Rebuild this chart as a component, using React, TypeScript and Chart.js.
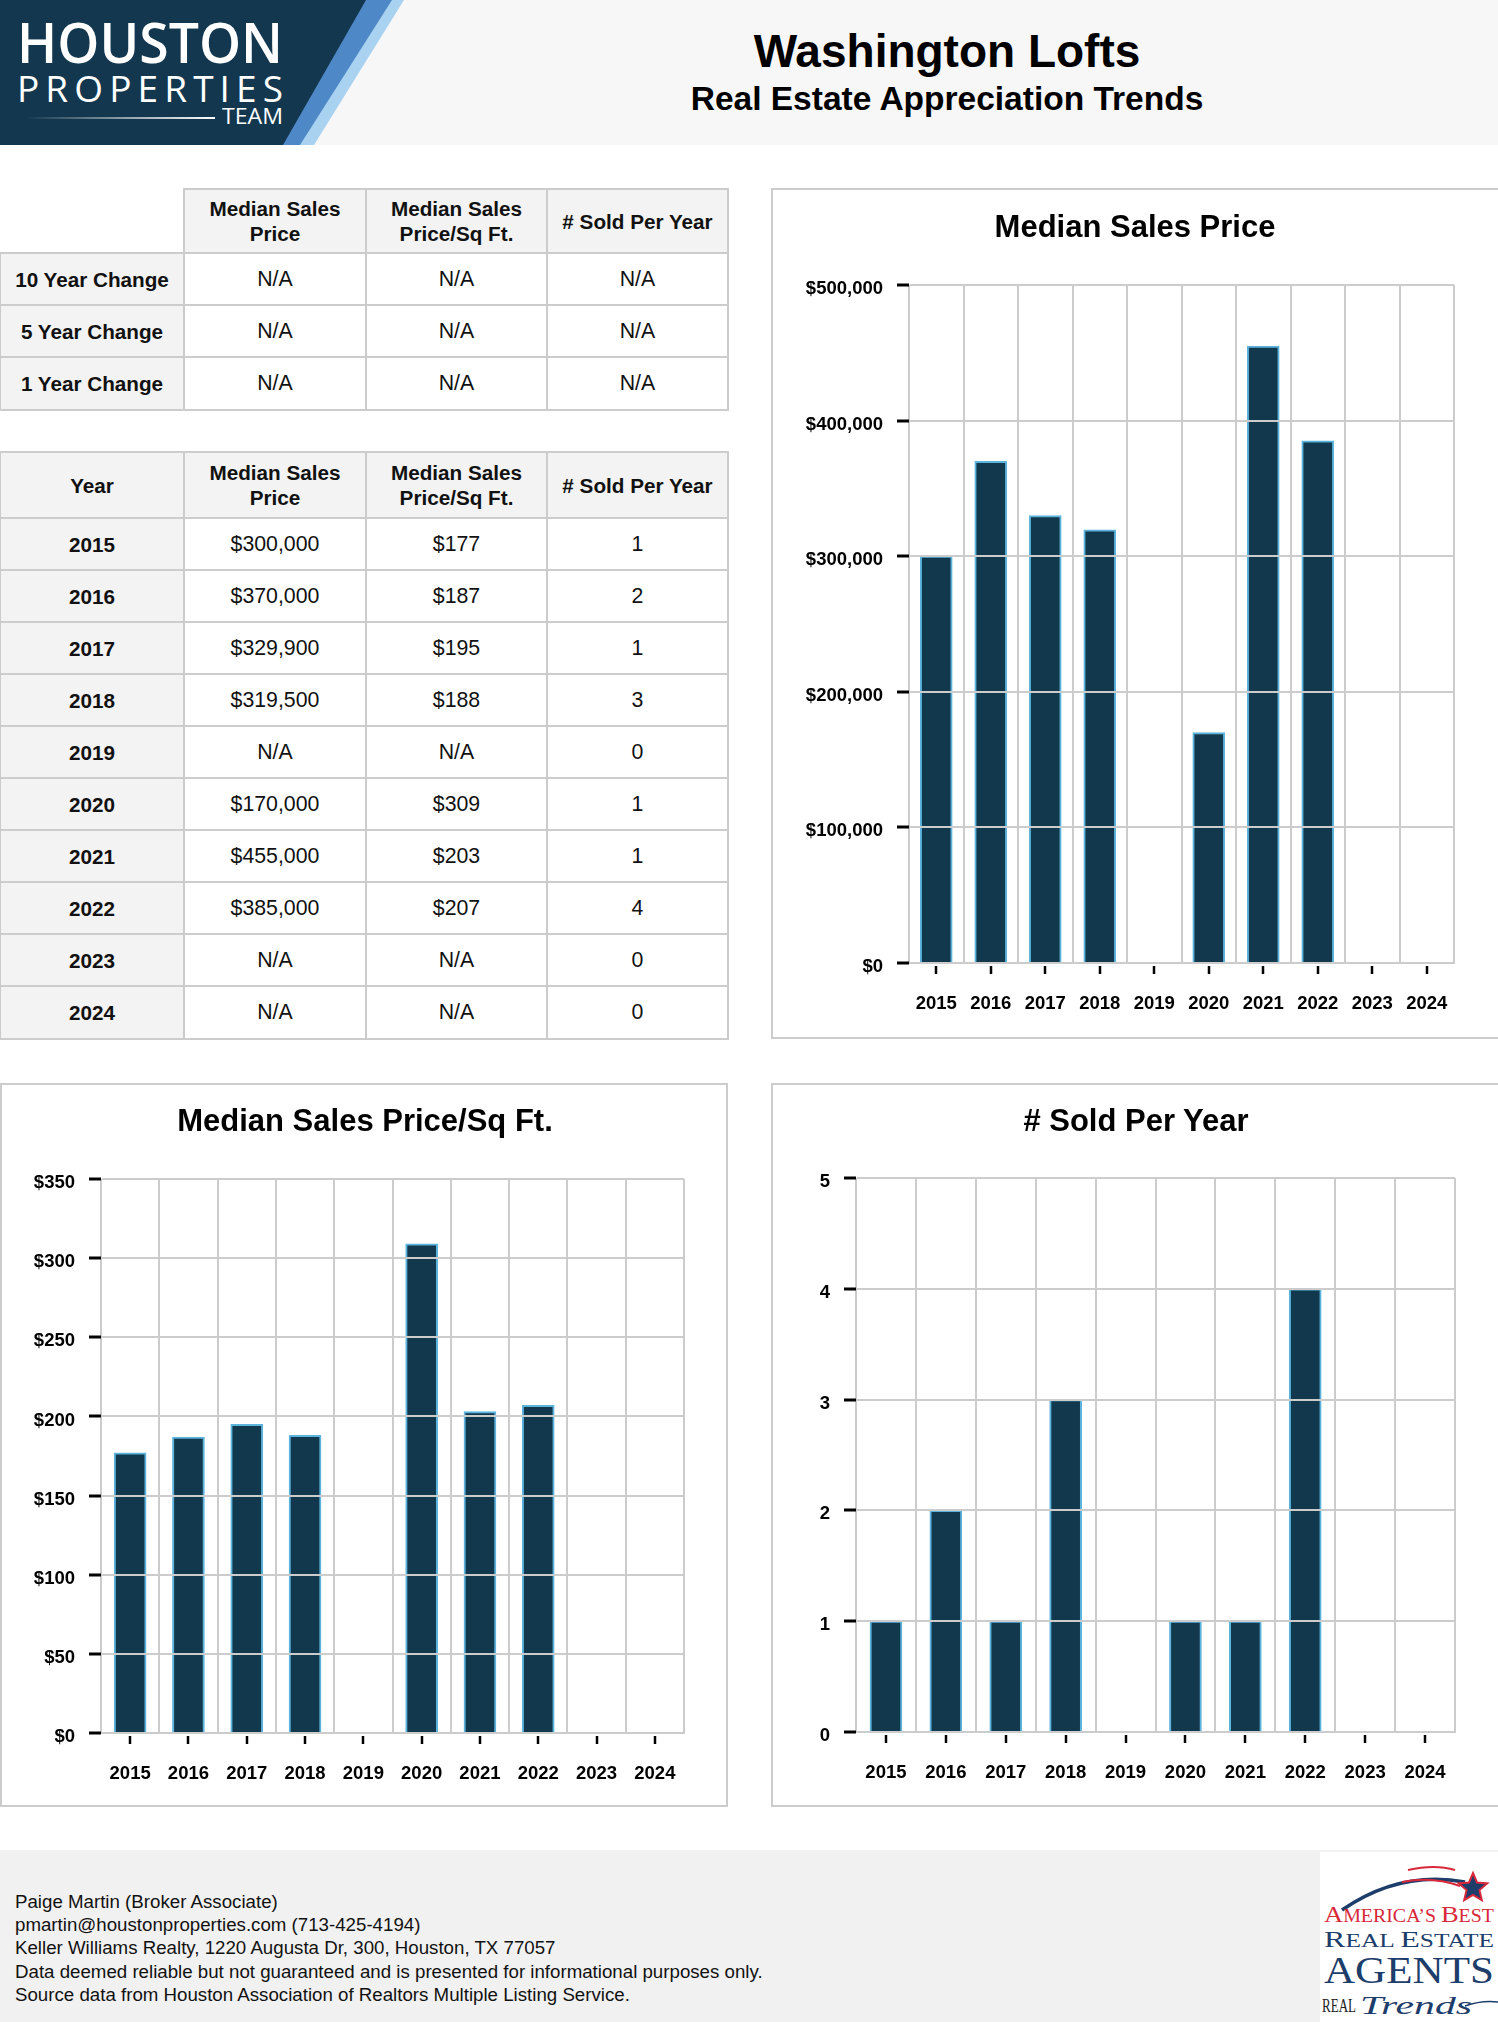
import React, { useEffect, useRef } from "react";
import { Chart, registerables } from "chart.js";

Chart.register(...registerables);

// ---------------- DATA ----------------
const years = ["2015", "2016", "2017", "2018", "2019", "2020", "2021", "2022", "2023", "2024"];
const medianPrice: (number | null)[] = [300000, 370000, 329900, 319500, null, 170000, 455000, 385000, null, null];
const pricePerSqFt: (number | null)[] = [177, 187, 195, 188, null, 309, 203, 207, null, null];
const soldPerYear: number[] = [1, 2, 1, 3, 0, 1, 1, 4, 0, 0];

const priceAxis = { min: 0, max: 500000, step: 100000 };
const sqftAxis = { min: 0, max: 350, step: 50 };
const soldAxis = { min: 0, max: 5, step: 1 };

const changeLabels = ["10 Year Change", "5 Year Change", "1 Year Change"];
const changeValues = [
  ["N/A", "N/A", "N/A"],
  ["N/A", "N/A", "N/A"],
  ["N/A", "N/A", "N/A"],
];
const columnHeaders = ["Median Sales\nPrice", "Median Sales\nPrice/Sq Ft.", "# Sold Per Year"];

const footerLines = [
  "Paige Martin (Broker Associate)",
  "pmartin@houstonproperties.com (713-425-4194)",
  "Keller Williams Realty, 1220 Augusta Dr, 300, Houston, TX 77057",
  "Data deemed reliable but not guaranteed and is presented for informational purposes only.",
  "Source data from Houston Association of Realtors Multiple Listing Service.",
];

// ---------------- STYLE ----------------
const FONT = '"Liberation Sans", Arial, Helvetica, sans-serif';
const BAR_FILL = "#12384d";
const BAR_EDGE = "#5cb3dc";
const GRID = "#cccccc";
const CELL_BG = "#f3f3f3";

const fmtMoney = (v: number) => "$" + Math.round(v).toLocaleString("en-US");

const tickMarks = {
  id: "tickMarks",
  afterDraw(chart: any) {
    const { ctx, chartArea, scales } = chart;
    const xs = scales.x;
    const ys = scales.y;
    ctx.save();
    ctx.strokeStyle = "#000";
    ctx.lineWidth = 3;
    ys.ticks.forEach((_: any, i: number) => {
      const py = Math.round(ys.getPixelForTick(i));
      ctx.beginPath();
      ctx.moveTo(chartArea.left - 12, py);
      ctx.lineTo(chartArea.left, py);
      ctx.stroke();
    });
    ctx.lineWidth = 2.5;
    xs.ticks.forEach((_: any, i: number) => {
      const px = Math.round(xs.getPixelForTick(i));
      ctx.beginPath();
      ctx.moveTo(px, chartArea.bottom + 3);
      ctx.lineTo(px, chartArea.bottom + 11);
      ctx.stroke();
    });
    ctx.restore();
  },
};

type BarProps = {
  left: number;
  top: number;
  width: number;
  height: number;
  title: string;
  values: (number | null)[];
  axis: { min: number; max: number; step: number };
  fmt: (v: number) => string;
  yWidth: number;
  xHeight: number;
  plotTop: number;
  titleCenter: number;
  rightPad: number;
  titleCenterX: number;
};

function BarChart(p: BarProps) {
  const ref = useRef<HTMLCanvasElement | null>(null);
  useEffect(() => {
    if (!ref.current) return;
    const chart = new Chart(ref.current, {
      type: "bar",
      data: {
        labels: years,
        datasets: [
          {
            data: p.values as any,
            backgroundColor: BAR_FILL,
            borderColor: BAR_EDGE,
            borderWidth: (c: any) => (c.raw && c.raw > 0 ? 2 : 0),
            barThickness: 32,
          },
        ],
      },
      options: {
        responsive: false,
        animation: false,
        devicePixelRatio: 1,
        layout: { padding: { top: p.plotTop, right: p.rightPad, bottom: 0, left: 0 } },
        plugins: {
          legend: { display: false },
          tooltip: { enabled: false },
          title: { display: false },
        },
        scales: {
          x: {
            grid: { color: GRID, lineWidth: 2, drawTicks: false, offset: true },
            border: { color: GRID, width: 2 },
            ticks: {
              color: "#000",
              font: { family: FONT, size: 18.5, weight: "bold" },
              padding: 30,
              maxRotation: 0,
              autoSkip: false,
            },
            afterFit: (s: any) => {
              s.height = p.xHeight;
            },
          },
          y: {
            min: p.axis.min,
            max: p.axis.max,
            grid: { color: GRID, lineWidth: 2, drawTicks: false, z: 1 },
            border: { color: GRID, width: 2 },
            ticks: {
              stepSize: p.axis.step,
              color: "#000",
              font: { family: FONT, size: 18.5, weight: "bold" },
              padding: 26,
              labelOffset: 4,
              callback: (v: any) => p.fmt(Number(v)),
            },
            afterFit: (s: any) => {
              s.width = p.yWidth;
            },
          },
        },
      } as any,
      plugins: [tickMarks],
    });
    return () => chart.destroy();
  }, []);
  return (
    <div
      style={{
        position: "absolute",
        left: p.left,
        top: p.top,
        width: p.width,
        height: p.height,
        border: `2px solid ${GRID}`,
        boxSizing: "border-box",
        background: "#fff",
      }}
    >
      <canvas
        ref={ref}
        width={p.width}
        height={p.height}
        style={{ position: "absolute", left: -2, top: -2, width: p.width, height: p.height }}
      />
      <div
        style={{
          position: "absolute",
          left: p.titleCenterX - 2 - 300,
          width: 600,
          top: p.titleCenter - 2 - 15,
          textAlign: "center",
          fontSize: 31,
          lineHeight: "31px",
          fontWeight: "bold",
          color: "#000",
          whiteSpace: "nowrap",
        }}
      >
        {p.title}
      </div>
    </div>
  );
}

function Cell(props: {
  x0: number;
  x1: number;
  y0: number;
  y1: number;
  text?: string;
  bg?: string;
  bold?: boolean;
  border?: boolean;
}) {
  const { x0, x1, y0, y1, text, bg, bold, border = true } = props;
  return (
    <div
      style={{
        position: "absolute",
        left: x0 - 1,
        top: y0 - 1,
        width: x1 - x0 + 2,
        height: y1 - y0 + 2,
        boxSizing: "border-box",
        border: border ? `2px solid ${GRID}` : "none",
        background: bg || "transparent",
        display: "flex",
        alignItems: "center",
        justifyContent: "center",
        textAlign: "center",
        whiteSpace: "pre-line",
        fontSize: bold ? 20.7 : 21.3,
        lineHeight: "25px",
        fontWeight: bold ? "bold" : "normal",
        color: "#111",
      }}
    >
      {text}
    </div>
  );
}

const COLS = [0, 184, 366, 547, 728];
const T1_ROWS = [189, 253, 305, 357, 410];
const T2_ROWS = [452, 518, 570, 622, 674, 726, 778, 830, 882, 934, 986, 1039];

function ChangeTable() {
  const cells: React.ReactNode[] = [];
  cells.push(<Cell key="h0" x0={COLS[0]} x1={COLS[1]} y0={T1_ROWS[0]} y1={T1_ROWS[1]} border={false} />);
  columnHeaders.forEach((h, j) =>
    cells.push(
      <Cell key={"h" + (j + 1)} x0={COLS[j + 1]} x1={COLS[j + 2]} y0={T1_ROWS[0]} y1={T1_ROWS[1]} text={h} bg={CELL_BG} bold />
    )
  );
  changeLabels.forEach((lab, i) => {
    cells.push(<Cell key={"r" + i} x0={COLS[0]} x1={COLS[1]} y0={T1_ROWS[i + 1]} y1={T1_ROWS[i + 2]} text={lab} bg={CELL_BG} bold />);
    changeValues[i].forEach((v, j) =>
      cells.push(<Cell key={"r" + i + "c" + j} x0={COLS[j + 1]} x1={COLS[j + 2]} y0={T1_ROWS[i + 1]} y1={T1_ROWS[i + 2]} text={v} bg="#fff" />)
    );
  });
  return <>{cells}</>;
}

function YearTable() {
  const cells: React.ReactNode[] = [];
  cells.push(<Cell key="h0" x0={COLS[0]} x1={COLS[1]} y0={T2_ROWS[0]} y1={T2_ROWS[1]} text="Year" bg={CELL_BG} bold />);
  columnHeaders.forEach((h, j) =>
    cells.push(
      <Cell key={"h" + (j + 1)} x0={COLS[j + 1]} x1={COLS[j + 2]} y0={T2_ROWS[0]} y1={T2_ROWS[1]} text={h} bg={CELL_BG} bold />
    )
  );
  years.forEach((yr, i) => {
    const vals = [
      medianPrice[i] == null ? "N/A" : fmtMoney(medianPrice[i] as number),
      pricePerSqFt[i] == null ? "N/A" : fmtMoney(pricePerSqFt[i] as number),
      String(soldPerYear[i]),
    ];
    cells.push(<Cell key={"y" + i} x0={COLS[0]} x1={COLS[1]} y0={T2_ROWS[i + 1]} y1={T2_ROWS[i + 2]} text={yr} bg={CELL_BG} bold />);
    vals.forEach((v, j) =>
      cells.push(<Cell key={"y" + i + "c" + j} x0={COLS[j + 1]} x1={COLS[j + 2]} y0={T2_ROWS[i + 1]} y1={T2_ROWS[i + 2]} text={v} bg="#fff" />)
    );
  });
  return <>{cells}</>;
}

function HoustonLogo() {
  return (
    <svg width={420} height={145} style={{ position: "absolute", left: 0, top: 0 }}>
      <defs>
        <linearGradient id="lineFade" x1="0" x2="1" y1="0" y2="0">
          <stop offset="0" stopColor="#ffffff" stopOpacity="0" />
          <stop offset="1" stopColor="#ffffff" stopOpacity="1" />
        </linearGradient>
      </defs>
      <polygon points="0,0 404,0 314,145 0,145" fill="#a9d2f1" />
      <polygon points="0,0 392,0 300,145 0,145" fill="#4f88c6" />
      <polygon points="0,0 366,0 283,145 0,145" fill="#12374f" />
      <text
        x={17}
        y={63}
        fill="#fff"
        fontSize={56}
        fontWeight="600"
        fontFamily='"Open Sans", "Noto Sans", sans-serif'
        textLength={266}
        lengthAdjust="spacingAndGlyphs"
      >
        HOUSTON
      </text>
      <text
        x={17}
        y={102}
        fill="#fff"
        fontSize={37}
        fontWeight="500"
        fontFamily='"Open Sans", "Noto Sans", sans-serif'
        textLength={266}
        lengthAdjust="spacing"
      >
        PROPERTIES
      </text>
      <rect x={25} y={117} width={190} height={2} fill="url(#lineFade)" />
      <text
        x={222}
        y={124}
        fill="#fff"
        fontSize={22}
        fontWeight="500"
        fontFamily='"Open Sans", "Noto Sans", sans-serif'
        textLength={61}
        lengthAdjust="spacingAndGlyphs"
      >
        TEAM
      </text>
    </svg>
  );
}

function AgentsLogo() {
  const serif = '"Liberation Serif", "DejaVu Serif", serif';
  const navy = "#1d3d6b";
  const red = "#d8283a";
  const star = (cx: number, cy: number, r: number) => {
    const pts: string[] = [];
    for (let i = 0; i < 10; i++) {
      const rr = i % 2 === 0 ? r : r * 0.45;
      const a = -Math.PI / 2 + (i * Math.PI) / 5;
      pts.push(`${(cx + rr * Math.cos(a)).toFixed(1)},${(cy + rr * Math.sin(a)).toFixed(1)}`);
    }
    return pts.join(" ");
  };
  return (
    <svg width={178} height={170} style={{ position: "absolute", left: 1320, top: 1852, background: "#fff" }}>
      <path d="M22,58 Q80,18 145,30" stroke={navy} strokeWidth={3.5} fill="none" />
      <path d="M88,18 Q115,12 135,18" stroke={red} strokeWidth={2} fill="none" />
      <path d="M82,30 Q112,24 140,34" stroke={red} strokeWidth={2} fill="none" />
      <polygon points={star(153, 36, 15)} fill={navy} stroke={red} strokeWidth={2} />
      <text x={4} y={70} fill={red} fontFamily={serif} textLength={170} lengthAdjust="spacingAndGlyphs">
        <tspan fontSize={24}>A</tspan>
        <tspan fontSize={18}>MERICA’S </tspan>
        <tspan fontSize={24}>B</tspan>
        <tspan fontSize={18}>EST</tspan>
      </text>
      <text x={4} y={95} fill={navy} fontFamily={serif} textLength={170} lengthAdjust="spacingAndGlyphs">
        <tspan fontSize={24}>R</tspan>
        <tspan fontSize={19}>EAL </tspan>
        <tspan fontSize={24}>E</tspan>
        <tspan fontSize={19}>STATE</tspan>
      </text>
      <text x={4} y={131} fill={navy} fontFamily={serif} fontSize={38} textLength={170} lengthAdjust="spacingAndGlyphs">
        AGENTS
      </text>
      <text x={2} y={160} fill="#222" fontFamily={serif} fontSize={19} textLength={34} lengthAdjust="spacingAndGlyphs">
        REAL
      </text>
      <text
        x={40}
        y={162}
        fill={navy}
        fontFamily={serif}
        fontStyle="italic"
        fontSize={26}
        textLength={112}
        lengthAdjust="spacingAndGlyphs"
      >
        Trends
      </text>
      <path d="M145,154 Q162,148 178,150" stroke={navy} strokeWidth={1.5} fill="none" />
    </svg>
  );
}

export default function App() {
  useEffect(() => {
    document.body.style.margin = "0";
  }, []);
  return (
    <div
      style={{
        position: "relative",
        width: 1498,
        height: 2022,
        overflow: "hidden",
        background: "#fff",
        fontFamily: FONT,
        color: "#000",
      }}
    >
      {/* header */}
      <div style={{ position: "absolute", left: 0, top: 0, width: 1498, height: 145, background: "#f7f7f7" }} />
      <HoustonLogo />
      <div
        style={{
          position: "absolute",
          left: 547,
          width: 800,
          top: 28,
          textAlign: "center",
          fontSize: 46,
          lineHeight: "46px",
          fontWeight: "bold",
        }}
      >
        Washington Lofts
      </div>
      <div
        style={{
          position: "absolute",
          left: 547,
          width: 800,
          top: 82,
          textAlign: "center",
          fontSize: 33.5,
          lineHeight: "33px",
          fontWeight: "bold",
        }}
      >
        Real Estate Appreciation Trends
      </div>

      <ChangeTable />
      <YearTable />

      <BarChart
        left={771}
        top={188}
        width={729}
        height={851}
        title="Median Sales Price"
        values={medianPrice}
        axis={priceAxis}
        fmt={fmtMoney}
        yWidth={138}
        xHeight={76}
        plotTop={97}
        titleCenter={38}
        titleCenterX={364}
        rightPad={46}
      />
      <BarChart
        left={0}
        top={1083}
        width={728}
        height={724}
        title="Median Sales Price/Sq Ft."
        values={pricePerSqFt}
        axis={sqftAxis}
        fmt={fmtMoney}
        yWidth={101}
        xHeight={74}
        plotTop={96}
        titleCenter={37}
        titleCenterX={365}
        rightPad={44}
      />
      <BarChart
        left={771}
        top={1083}
        width={729}
        height={724}
        title="# Sold Per Year"
        values={soldPerYear}
        axis={soldAxis}
        fmt={(v) => String(v)}
        yWidth={85}
        xHeight={75}
        plotTop={95}
        titleCenter={37}
        titleCenterX={365}
        rightPad={45}
      />

      {/* footer */}
      <div style={{ position: "absolute", left: 0, top: 1850, width: 1498, height: 172, background: "#f1f1f1" }} />
      <div style={{ position: "absolute", left: 15, top: 1890, fontSize: 18.7, lineHeight: "23.2px", color: "#111" }}>
        {footerLines.map((l, i) => (
          <div key={i}>{l}</div>
        ))}
      </div>
      <AgentsLogo />
    </div>
  );
}
